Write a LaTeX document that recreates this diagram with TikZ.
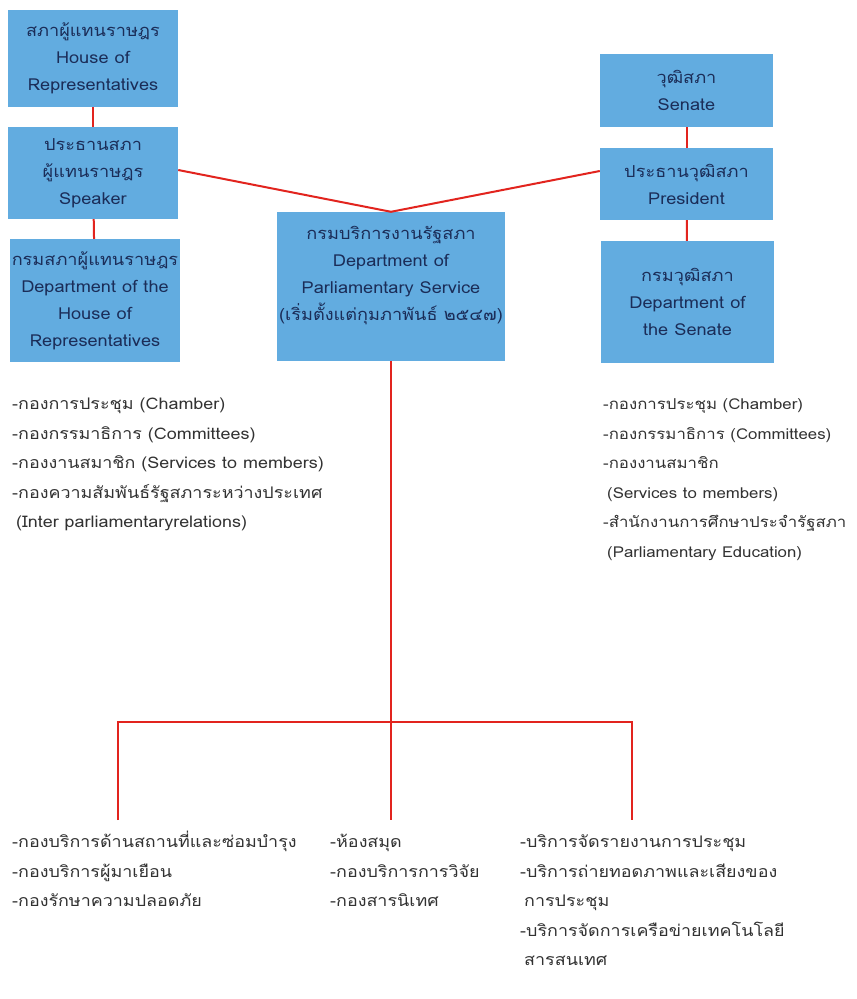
\documentclass[tikz,border=0pt]{standalone}
\usepackage{fontspec}
\newfontfamily\thaifont[Script=Thai,FakeStretch=1.12]{Loma}
\newfontfamily\thaiboxfont[Script=Thai,FakeStretch=1.1]{Loma}
\definecolor{boxblue}{RGB}{98,172,224}
\definecolor{boxtext}{RGB}{27,45,88}
\definecolor{linered}{RGB}{226,36,30}
\definecolor{listtext}{RGB}{50,50,50}
\tikzset{
  unit/.style={fill=boxblue, text=boxtext, align=center, inner sep=0pt,
    font=\thaiboxfont\fontsize{16.5}{27}\selectfont},
  tie/.style={linered, line width=2pt},
  duties/.style={text=listtext, align=left, anchor=north west, inner sep=0pt,
    font=\thaifont\fontsize{16}{29.5}\selectfont},
}
\begin{document}
\begin{tikzpicture}[x=1pt, y=-1pt]
    \useasboundingbox [fill=white] (0,0) rectangle (857,999);
    % House side
    \node [unit, minimum width=170pt, minimum height=97pt] (house) at (93,58.5)
        {สภาผู้แทนราษฎร\\House of\\Representatives};
    \node [unit, minimum width=170pt, minimum height=92pt] (speaker) at (93,173)
        {ประธานสภา\\ผู้แทนราษฎร\\Speaker};
    \node [unit, minimum width=170pt, minimum height=123pt] (depthouse) at (95,300.5)
        {กรมสภาผู้แทนราษฎร\\Department of the\\House of\\Representatives};
    % Senate side
    \node [unit, minimum width=173pt, minimum height=73pt] (senate) at (686.5,90.5)
        {วุฒิสภา\\Senate};
    \node [unit, minimum width=173pt, minimum height=72pt] (president) at (686.5,184)
        {ประธานวุฒิสภา\\President};
    \node [unit, minimum width=173pt, minimum height=122pt] (deptsenate) at (687.5,302)
        {กรมวุฒิสภา\\Department of\\the Senate};
    % Parliamentary service
    \node [unit, minimum width=228pt, minimum height=149pt] (service) at (391,286.5)
        {กรมบริการงานรัฐสภา\\Department of\\Parliamentary Service\\(เริ่มตั้งแต่กุมภาพันธ์ ๒๕๔๗)\\{}};

    \draw [tie] (house) -- (speaker);
    \draw [tie] (speaker) -- (depthouse);
    \draw [tie] (senate) -- (president);
    \draw [tie] (president) -- (deptsenate);
    \draw [tie] ([yshift=3pt]speaker.east) -- (service.north) -- ([yshift=13pt]president.west);

    % Bus to the offices below
    \coordinate (busl) at (118,722);
    \coordinate (busr) at (632,722);
    \coordinate (dropl) at (118,820);
    \coordinate (dropm) at (391,820);
    \coordinate (dropr) at (632,820);
    \draw [tie] (service.south) -- (dropm);
    \draw [tie] (dropl) -- (busl) -- (busr) -- (dropr);

    % Offices
    \node [duties] (houseoffices) at (12,389)
        {\strut-กองการประชุม (Chamber)\\-กองกรรมาธิการ (Committees)\\-กองงานสมาชิก (Services to members)\\-กองความสัมพันธ์รัฐสภาระหว่างประเทศ\\\hspace{4pt}(Inter parliamentaryrelations)};
    \node [duties, font=\thaifont\fontsize{15}{29.5}\selectfont] (senateoffices) at (603,389)
        {\strut-กองการประชุม (Chamber)\\-กองกรรมาธิการ (Committees)\\-กองงานสมาชิก\\\hspace{4pt}(Services to members)\\-สำนักงานการศึกษาประจำรัฐสภา\\\hspace{4pt}(Parliamentary Education)};
    \node [duties] (siteoffices) at (12,827)
        {\strut-กองบริการด้านสถานที่และซ่อมบำรุง\\-กองบริการผู้มาเยือน\\-กองรักษาความปลอดภัย};
    \node [duties] (infooffices) at (330,827)
        {\strut-ห้องสมุด\\-กองบริการการวิจัย\\-กองสารนิเทศ};
    \node [duties] (mediaoffices) at (520,827)
        {\strut-บริการจัดรายงานการประชุม\\-บริการถ่ายทอดภาพและเสียงของ\\\hspace{4pt}การประชุม\\-บริการจัดการเครือข่ายเทคโนโลยี\\\hspace{4pt}สารสนเทศ};
\end{tikzpicture}
\end{document}
